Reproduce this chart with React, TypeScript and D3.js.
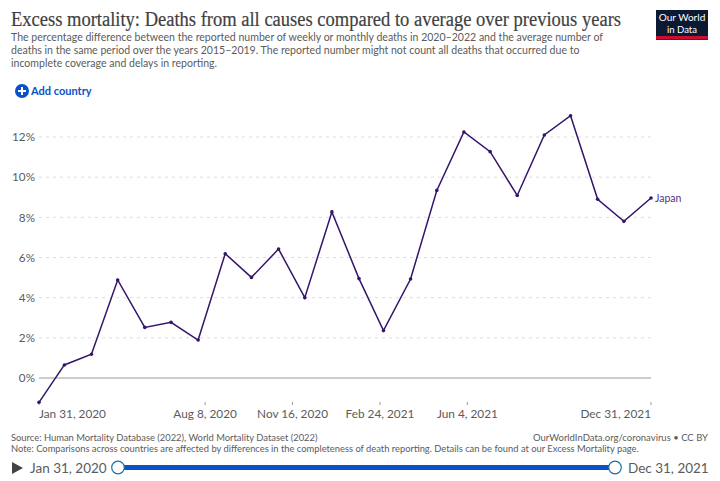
import React from 'react';
import * as d3 from 'd3';

const width = 720;
const height = 481;

const seriesName = 'Japan';
const monthEnds = [
  '2020-01-31', '2020-02-29', '2020-03-31', '2020-04-30', '2020-05-31', '2020-06-30',
  '2020-07-31', '2020-08-31', '2020-09-30', '2020-10-31', '2020-11-30', '2020-12-31',
  '2021-01-31', '2021-02-28', '2021-03-31', '2021-04-30', '2021-05-31', '2021-06-30',
  '2021-07-31', '2021-08-31', '2021-09-30', '2021-10-31', '2021-11-30', '2021-12-31',
];
const excess = [
  -1.21, 0.65, 1.18, 4.88, 2.52, 2.77, 1.89, 6.19, 5.01, 6.42, 4.0, 8.27,
  4.95, 2.36, 4.93, 9.34, 12.25, 11.27, 9.09, 12.1, 13.06, 8.9, 7.8, 8.96,
];
const yTicks = [0, 2, 4, 6, 8, 10, 12];
const xTicks = ['2020-01-31', '2020-08-08', '2020-11-16', '2021-02-24', '2021-06-04', '2021-12-31'];

const title = 'Excess mortality: Deaths from all causes compared to average over previous years';
const subtitle = [
  'The percentage difference between the reported number of weekly or monthly deaths in 2020–2022 and the average number of',
  'deaths in the same period over the years 2015–2019. The reported number might not count all deaths that occurred due to',
  'incomplete coverage and delays in reporting.',
];
const source = 'Source: Human Mortality Database (2022), World Mortality Dataset (2022)';
const note = 'Note: Comparisons across countries are affected by differences in the completeness of death reporting. Details can be found at our Excess Mortality page.';
const credit = 'OurWorldInData.org/coronavirus • CC BY';

const lato = 'Lato, "Open Sans", sans-serif';
const textGrey = '#5b5b5b';
const lineColor = '#34156b';
const blue = '#0a50c8';

const parse = d3.utcParse('%Y-%m-%d');
const fmt = d3.utcFormat('%b %-d, %Y');

export default function App() {
  const x = d3
    .scaleUtc()
    .domain([parse(monthEnds[0])!, parse(monthEnds[monthEnds.length - 1])!])
    .range([39, 651]);
  const y = d3.scaleLinear().domain([0, 12]).range([378, 137]);

  const points = monthEnds.map((d, i) => ({ date: parse(d)!, value: excess[i] }));
  const line = d3
    .line<{ date: Date; value: number }>()
    .x(d => x(d.date))
    .y(d => y(d.value));
  const last = points[points.length - 1];

  return (
    <svg
      width={width}
      height={height}
      viewBox={`0 0 ${width} ${height}`}
      style={{ position: 'absolute', left: 0, top: 0, background: '#fff' }}
      fontFamily={lato}
    >
      {/* header */}
      <text x={11} y={25.5} fontFamily='"Liberation Serif", serif' fontSize={20} fill="#3f3f3f" stroke="#3f3f3f" strokeWidth={0.2} textLength={610} lengthAdjust="spacingAndGlyphs">
        {title}
      </text>
      {subtitle.map((s, i) => (
        <text key={i} x={11} y={41 + i * 13} fontSize={10.55} fill={textGrey}>
          {s}
        </text>
      ))}

      {/* logo */}
      <rect x={656} y={10} width={52} height={30} fill="#0b1a33" />
      <rect x={656} y={36} width={52} height={3.5} fill="#c8102e" />
      <text x={682} y={21} textAnchor="middle" fontSize={9.5} fill="#fff" textLength={46.5} lengthAdjust="spacingAndGlyphs">Our World</text>
      <text x={682} y={32.6} textAnchor="middle" fontSize={9.5} fill="#fff">in Data</text>

      {/* add country */}
      <circle cx={22} cy={91} r={7} fill={blue} />
      <path d="M22 87v8M18 91h8" stroke="#fff" strokeWidth={2} />
      <text x={31} y={95} fontSize={11} fontWeight={700} fill={blue}>Add country</text>

      {/* grid */}
      {yTicks.map(t => (
        <g key={t}>
          {t !== 0 && (
            <line x1={39} x2={651} y1={y(t)} y2={y(t)} stroke="#dddddd" strokeDasharray="3 4" />
          )}
          <text x={35} y={y(t) + 4.2} textAnchor="end" fontSize={11.7} fill={textGrey}>
            {t}%
          </text>
        </g>
      ))}
      <line x1={39} x2={651} y1={y(0)} y2={y(0)} stroke="#999" strokeWidth={1} />

      {/* x axis */}
      {xTicks.map((d, i) => {
        const date = parse(d)!;
        const anchor = i === 0 ? 'start' : i === xTicks.length - 1 ? 'end' : 'middle';
        return (
          <g key={d}>
            <line x1={x(date)} x2={x(date)} y1={402} y2={405} stroke="#999" />
            <text x={x(date)} y={418} textAnchor={anchor} fontSize={11.8} fill={textGrey}>
              {fmt(date)}
            </text>
          </g>
        );
      })}

      {/* series */}
      <path d={line(points)!} fill="none" stroke={lineColor} strokeWidth={1.5} />
      {points.map((p, i) => (
        <circle key={i} cx={x(p.date)} cy={y(p.value)} r={1.8} fill={lineColor} />
      ))}
      <text x={x(last.date) + 4} y={y(last.value) + 3.5} fontSize={10.5} fill="#4f3580">
        {seriesName}
      </text>

      {/* footer */}
      <text x={11} y={441} fontSize={9.4} fill={textGrey}>{source}</text>
      <text x={708} y={441} textAnchor="end" fontSize={9.5} fill={textGrey}>{credit}</text>
      <text x={11} y={452} fontSize={9.35} fill={textGrey}>{note}</text>

      {/* timeline */}
      <path d="M12 462l11 6l-11 6z" fill="#444" />
      <text x={30} y={473} fontSize={13.5} fill={textGrey}>{fmt(points[0].date)}</text>
      <rect x={118} y={465} width={497} height={5} fill={blue} />
      <circle cx={118} cy={467.5} r={6.3} fill="#fff" stroke="#1d6fa5" strokeWidth={1.2} />
      <circle cx={615} cy={467.5} r={6.3} fill="#fff" stroke="#1d6fa5" strokeWidth={1.2} />
      <text x={628} y={473} fontSize={13.5} fill={textGrey}>{fmt(last.date)}</text>
    </svg>
  );
}
